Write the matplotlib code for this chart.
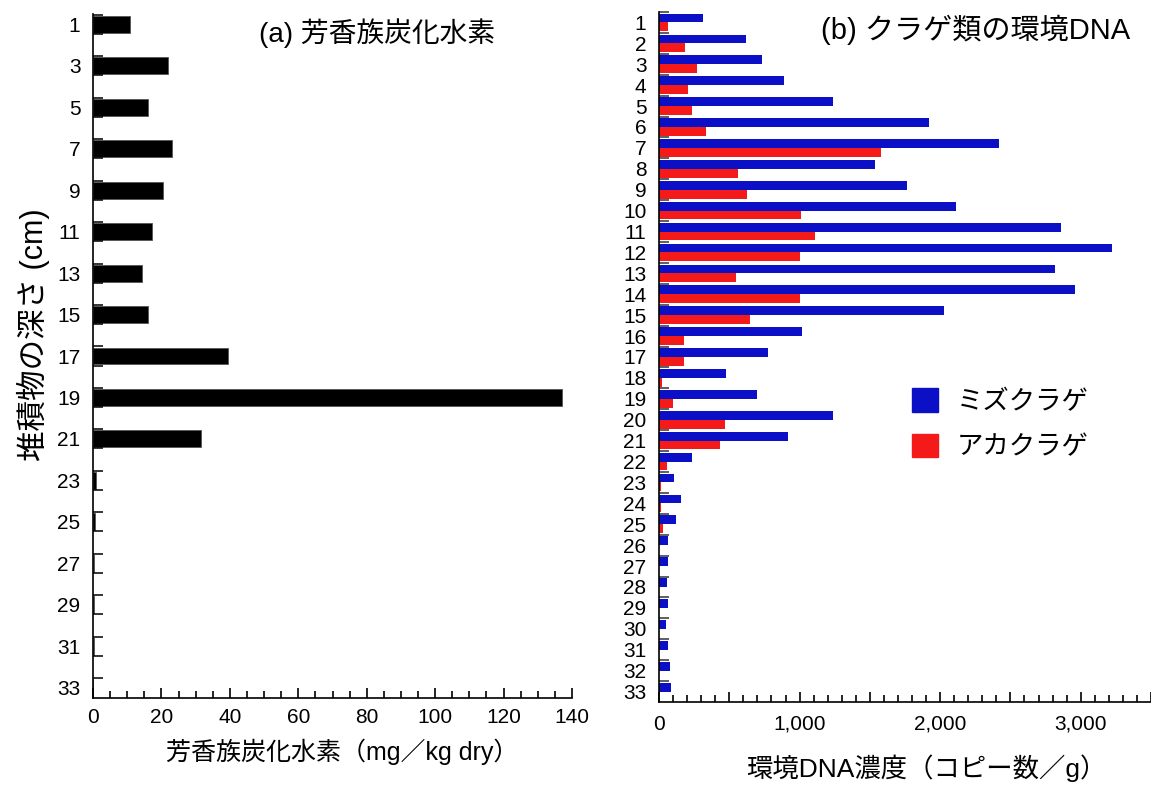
import numpy as np
import matplotlib
matplotlib.use('Agg')
import matplotlib.pyplot as plt
from matplotlib import font_manager
from matplotlib.ticker import MultipleLocator, FixedLocator, FuncFormatter
from matplotlib.patches import Patch

plt.rcParams['font.family'] = ['Liberation Sans', 'Noto Sans CJK JP', 'DejaVu Sans']
installed = {f.name for f in font_manager.fontManager.ttflist}
narrow = 'Liberation Sans Narrow' if 'Liberation Sans Narrow' in installed else 'Liberation Sans'

# (a) aromatic hydrocarbons, odd depths only
depth_a = list(range(1, 34, 2))
pah = [10.7, 21.9, 16.2, 23.0, 20.6, 17.1, 14.2, 16.1, 39.5, 137.0, 31.7,
       1.0, 0.5, 0.4, 0.2, 0.4, 0.0]

# (b) jellyfish eDNA, every depth
depth_b = list(range(1, 34))
mizu = [312, 620, 732, 892, 1237, 1920, 2422, 1540, 1767, 2115, 2862, 3220,
        2815, 2957, 2030, 1017, 772, 475, 695, 1237, 920, 232, 110, 155,
        120, 65, 65, 57, 65, 52, 65, 77, 85]
aka = [65, 185, 267, 207, 235, 337, 1577, 560, 625, 1007, 1112, 1002,
       547, 1000, 650, 175, 175, 20, 100, 470, 432, 60, 12, 12,
       27, 0, 0, 0, 0, 0, 0, 0, 0]

blue = '#0b10c6'
red = '#f41a1a'

W, H = 1151, 787
fig = plt.figure(figsize=(W / 100, H / 100), dpi=100)
ax0 = fig.add_axes([93 / W, 1 - 698 / H, (572 - 93) / W, (698 - 14) / H])
ax1 = fig.add_axes([659 / W, 1 - 702 / H, (1151 - 659) / W, (702 - 12) / H])

for ax in (ax0, ax1):
    ax.spines['top'].set_visible(False)
    ax.spines['right'].set_visible(False)
    ax.spines['left'].set_linewidth(1.2)
    ax.spines['bottom'].set_linewidth(1.2)

# ---- panel (a)
ax0.barh(depth_a, pah, height=0.82, color='black', edgecolor='#555555', linewidth=0.6)
ax0.set_xlim(0, 140)
ax0.set_ylim(33.5, 0.5)
ax0.xaxis.set_major_locator(MultipleLocator(20))
ax0.xaxis.set_minor_locator(MultipleLocator(5))
ax0.tick_params(axis='x', which='major', direction='in', length=7.5, width=1.2,
                pad=7, labelsize=15)
ax0.tick_params(axis='x', which='minor', direction='in', length=5, width=1.2)
ax0.set_yticks(depth_a)
ax0.set_yticklabels([str(d) for d in depth_a], family=narrow)
edges_a = sorted([d - 0.46 for d in depth_a] + [d + 0.46 for d in depth_a[:-1]])
ax0.yaxis.set_minor_locator(FixedLocator(edges_a))
ax0.tick_params(axis='y', which='major', length=0, pad=9, labelsize=15)
ax0.tick_params(axis='y', which='minor', direction='in', length=7, width=1.1)
ax0.set_xlabel('芳香族炭化水素（mg／kg dry）', fontsize=18)
ax0.xaxis.set_label_coords((342 - 93) / (572 - 93), -(752 - 698) / (698 - 14))
ax0.xaxis.label.set_va('center')
ax0.set_ylabel('堆積物の深さ (cm)', fontsize=22)
ax0.yaxis.set_label_coords(-(93 - 33) / (572 - 93), (698 - 335) / (698 - 14))
ax0.yaxis.label.set_va('center')

# ---- panel (b)
yb = np.array(depth_b)
ax1.barh(yb - 0.21, mizu, height=0.42, color=blue, label='ミズクラゲ')
ax1.barh(yb + 0.21, aka, height=0.42, color=red, label='アカクラゲ')
ax1.set_xlim(0, 3500)
ax1.set_ylim(33.5, 0.5)
ax1.xaxis.set_major_locator(MultipleLocator(500))
ax1.xaxis.set_minor_locator(MultipleLocator(100))
ax1.xaxis.set_major_formatter(FuncFormatter(
    lambda v, p: f'{int(v):,}' if int(round(v)) % 1000 == 0 else ''))
ax1.tick_params(axis='x', which='major', direction='in', length=7.5, width=1.2,
                pad=9, labelsize=15)
ax1.tick_params(axis='x', which='minor', direction='in', length=5, width=1.2)
ax1.set_yticks(depth_b)
ax1.yaxis.set_minor_locator(FixedLocator([d - 0.5 for d in depth_b]))
ax1.tick_params(axis='y', which='major', length=0, pad=9, labelsize=15)
ax1.tick_params(axis='y', which='minor', direction='in', length=7, width=1.1,
                color='#333333')
ax1.set_xlabel('環境DNA濃度（コピー数／g）', fontsize=19)
ax1.xaxis.set_label_coords((926 - 659) / (1151 - 659), -(768 - 702) / (702 - 12))
ax1.xaxis.label.set_va('center')

handles = [Patch(color=blue), Patch(color=red)]
ax1.legend(handles, ['ミズクラゲ', 'アカクラゲ'], loc='upper left',
           bbox_to_anchor=(912 / W, 1 - 388 / H), bbox_transform=fig.transFigure,
           frameon=False, fontsize=19, handlelength=1.0, handleheight=1.0,
           handletextpad=0.7, labelspacing=0.75, borderpad=0, borderaxespad=0)

fig.text(377 / W, 1 - 33 / H, '(a) 芳香族炭化水素', fontsize=20, ha='center', va='center')
fig.text(976 / W, 1 - 30 / H, '(b) クラゲ類の環境DNA', fontsize=21, ha='center', va='center')

fig.savefig('out.png', dpi=100)
